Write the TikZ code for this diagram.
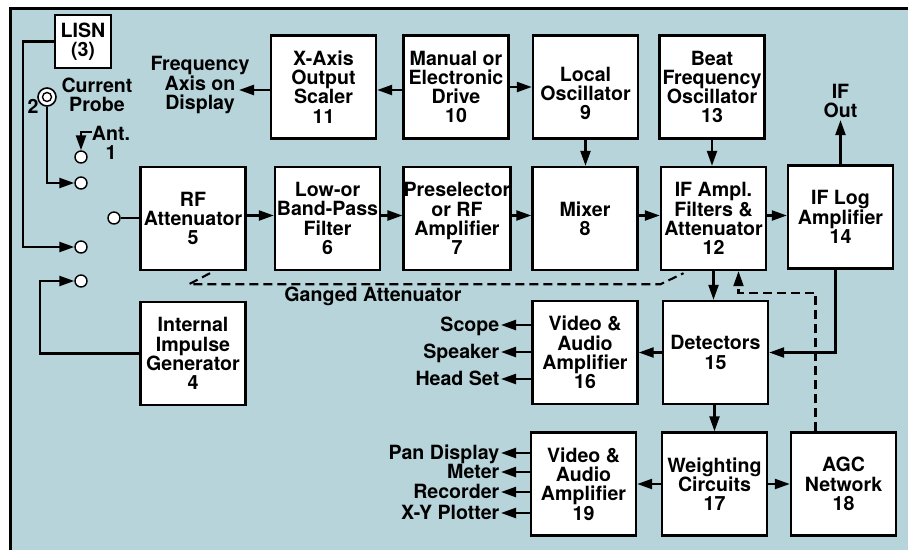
\documentclass[tikz,border=0pt]{standalone}
\usepackage{fontspec}
\setmainfont{TeX Gyre Heros}
\usetikzlibrary{arrows.meta}

\definecolor{panelblue}{RGB}{183,212,218}

\begin{document}
\begin{tikzpicture}[x=1pt, y=-1pt, line join=miter,
    font=\fontsize{19.6}{19.2}\selectfont\bfseries]
  % \bw and \bh are the width and height of every block
  % of the receiver; coordinates are taken in pixels.
  \pgfmathsetmacro{\bw}{105}
  \pgfmathsetmacro{\bh}{103}

  \tikzset{
    block_box/.style={draw, fill=white, line width=2.4pt,
      minimum width=\bw pt, minimum height=\bh pt,
      inner sep=0pt, align=center},
    sig_arrow/.style={line width=2.3pt, -{Triangle[length=15pt,width=10pt]}},
    sig_wire/.style={line width=2.3pt},
    gang_line/.style={line width=2.1pt, dash pattern=on 9pt off 5pt},
    agc_line/.style={gang_line, -{Triangle[length=15pt,width=10pt]}},
    terminal_dot/.style={circle, draw, fill=white, line width=1.4pt,
      minimum size=12pt, inner sep=0pt},
    plain_label/.style={inner sep=0pt, align=center},
    out_label/.style={anchor=east, inner sep=1.5pt,
      text height=13.8pt, text depth=0pt},
  }

  \useasboundingbox (0,0) rectangle (908,550);
  \fill[panelblue] (10,8) rectangle (908,550);
  \draw[line width=3pt] (10.5,550) -- (10.5,8.5) -- (908,8.5);

  \node[block_box] (x11)   at (323.5,87)  {X-Axis\\Output\\Scaler\\11};
  \node[block_box] (d10)   at (456,87)    {Manual or\\Electronic\\Drive\\10};
  \node[block_box, text height=66pt] (lo9) at (585.5,87) {Local\\Oscillator\\9};
  \node[block_box] (bfo13) at (712,87)    {Beat\\Frequency\\Oscillator\\13};
  \node[block_box] (rf5)   at (193,218.5) {RF\\Attenuator\\5};
  \node[block_box] (bp6)   at (327.5,218.5) {Low-or\\Band-Pass\\Filter\\6};
  \node[block_box] (pre7)  at (457,218.5) {Preselector\\or RF\\Amplifier\\7};
  \node[block_box] (mix8)  at (585,218.5) {Mixer\\8};
  \node[block_box] (if12)  at (713.5,218.5) {IF Ampl.\\Filters \&\\Attenuator\\12};
  \node[block_box] (if14)  at (840.5,217) {IF Log\\Amplifier\\14};
  \node[block_box] (gen4)  at (193,353.5) {Internal\\Impulse\\Generator\\4};
  \node[block_box] (v16)   at (585,352.5) {Video \&\\Audio\\Amplifier\\16};
  \node[block_box] (det15) at (715.5,352.5) {Detectors\\15};
  \node[block_box] (v19)   at (583.5,484) {Video \&\\Audio\\Amplifier\\19};
  \node[block_box] (w17)   at (714.5,484) {Weighting\\Circuits\\17};
  \node[block_box] (agc18) at (843.5,484) {AGC\\Network\\18};

  \node[block_box, minimum width=56pt, minimum height=53pt] (lisn)
    at (83,41.5) {LISN\\(3)};

  % input terminals and the current probe
  \foreach \tname/\tx/\ty in {t1/81/157, t2/81/183, t3/81/247, t4/81/281, tin/114/218}
    \node[terminal_dot] (\tname) at (\tx,\ty) {};
  \node[terminal_dot, minimum size=18pt, line width=1.6pt] (probe) at (47,97) {};
  \node[terminal_dot, minimum size=9pt] (probecore) at (probe) {};

  \node[plain_label] (probelbl) at (97,95) {Current\\Probe};
  \node[plain_label] (two) at (33,106) {2};
  \node[plain_label] (ant) at (111,143) {Ant.\\1};
  \node[plain_label] (freq) at (200,85) {Frequency\\Axis on\\Display};
  \node[plain_label, inner sep=2pt] (ifout) at (840.5,101) {IF\\Out};
  \node[plain_label] (gang) at (373,296) {Ganged Attenuator};

  \coordinate (antfeed) at (92,132);
  \coordinate (freqtip) at (239,90);

  \draw[sig_arrow] (lisn.west) -- ++(-31,0) |- (t3.west);
  \draw[sig_arrow] (probe.south) |- (t2.west);
  \draw[sig_arrow] (antfeed) -| (t1.north);
  \draw[sig_arrow] (gen4.west) -- ++(-99,0) |- (t4.west);
  \draw[sig_wire] (tin.east) -- (rf5.west |- tin.east);

  \draw[sig_arrow] (d10.west |- freqtip) -- (x11.east |- freqtip);
  \draw[sig_arrow] (x11.west |- freqtip) -- (freqtip);
  \draw[sig_arrow] (d10.east) -- (lo9.west);
  \draw[sig_arrow] (lo9.south) -- (lo9.south |- mix8.north);
  \draw[sig_arrow] (bfo13.south) -- (bfo13.south |- if12.north);

  \foreach \from/\to in {rf5/bp6, bp6/pre7, pre7/mix8, mix8/if12, if12/if14}
    \draw[sig_arrow] (\from.east) ++(0,-3) coordinate (p) -- (p -| \to.west);

  \draw[sig_arrow] (if14.north) -- (ifout.south);
  \draw[sig_arrow] ([xshift=-5pt]if14.south) |- (det15.east);
  \draw[sig_arrow] (if12.south) -- (if12.south |- det15.north);
  \draw[sig_arrow] (det15.west) -- (v16.east);
  \draw[sig_arrow] (w17.north |- det15.south) -- (w17.north);
  \draw[sig_arrow] (w17.west) -- (v19.east);
  \draw[sig_arrow] (w17.east) -- (agc18.west);

  % ganged attenuator link and AGC feedback
  \draw[gang_line] ([xshift=17pt,yshift=-2pt]rf5.south) -- ++(-21,11)
    -- ([xshift=-53pt,yshift=-13pt]if12.south)
    -- ([xshift=-30pt,yshift=-2pt]if12.south);
  \draw[agc_line] ([xshift=-28pt]agc18.north)
    |- ([xshift=25pt,yshift=-22pt]if12.south) -- ([xshift=25pt]if12.south);

  \node[out_label] (scope)   at (501,325) {Scope};
  \node[out_label] (speaker) at (501,352) {Speaker};
  \node[out_label] (headset) at (501,379) {Head Set};
  \node[out_label] (pan)      at (501,453) {Pan Display};
  \node[out_label] (meter)    at (501,472) {Meter};
  \node[out_label] (recorder) at (501,492) {Recorder};
  \node[out_label] (xyplot)   at (501,513) {X-Y Plotter};
  \foreach \lname in {scope, speaker, headset}
    \draw[sig_arrow] (v16.west |- \lname.east) -- (\lname.east);
  \foreach \lname in {pan, meter, recorder, xyplot}
    \draw[sig_arrow] (v19.west |- \lname.east) -- (\lname.east);
\end{tikzpicture}
\end{document}
